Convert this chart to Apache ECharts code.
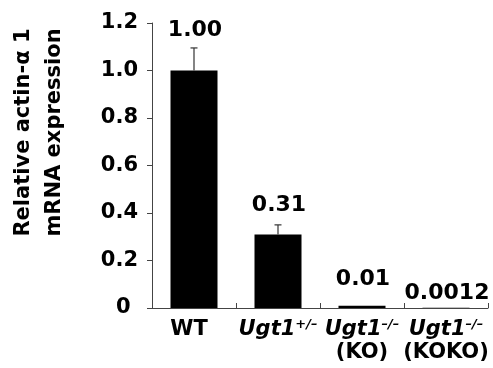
<!DOCTYPE html>
<html>
<head>
<meta charset="utf-8">
<script src="https://cdn.jsdelivr.net/npm/echarts@6/dist/echarts.min.js"></script>
<style>
  html, body { margin: 0; padding: 0; background: #fff; }
  #chart { width: 493px; height: 368px; }
</style>
</head>
<body>
<div id="chart"></div>
<script>
// groups and measured values
const categories = ['WT', 'Ugt1+/-', 'Ugt1-/- (KO)', 'Ugt1-/- (KOKO)']
const expression = [1.0, 0.31, 0.01, 0.0012]
const errors = [0.095, 0.04, 0, 0]
const valueLabels = ['1.00', '0.31', '0.01', '0.0012']
// gap (px) between the top of each mark and its value label
const labelGaps = [7, 9, 15, 3]

const FONT = 'DejaVu Sans'
const chart = echarts.init(document.getElementById('chart'))

function catLabel(name) {
  if (name === 'WT') return '{w|WT}'
  const parts = name.split(' ')
  const sup = parts[0].slice(4).replace(/-/g, '\u2013')
  let s = '{i|Ugt1}{s|' + sup + '}'
  if (parts[1]) s += '\n{n|' + parts[1] + '}'
  return s
}

const txt = { fontFamily: FONT, fontWeight: 'bold', color: '#000', lineHeight: 23 }

chart.setOption({
  animation: false,
  grid: { left: 149, right: 5, top: 23, bottom: 60 },
  xAxis: {
    type: 'category',
    data: categories,
    axisLine: { lineStyle: { color: '#444', width: 1 } },
    axisTick: { show: true, inside: true, length: 5, lineStyle: { color: '#444' } },
    axisLabel: {
      interval: 0,
      margin: 10,
      color: '#000',
      fontFamily: FONT,
      fontWeight: 'bold',
      fontSize: 21,
      lineHeight: 23,
      formatter: catLabel,
      rich: {
        w: Object.assign({ fontSize: 21, padding: [0, 10, 0, 0] }, txt),
        i: Object.assign({ fontSize: 21, fontStyle: 'italic' }, txt),
        s: Object.assign({ fontSize: 13, fontStyle: 'italic', verticalAlign: 'top' }, txt),
        n: Object.assign({ fontSize: 21 }, txt)
      }
    }
  },
  yAxis: {
    type: 'value',
    min: 0,
    max: 1.2,
    interval: 0.2,
    name: 'Relative actin-\u03b1 1\nmRNA expression',
    nameLocation: 'middle',
    nameRotate: 90,
    nameGap: 82,
    nameTextStyle: {
      color: '#000',
      fontFamily: FONT,
      fontWeight: 'bold',
      fontSize: 21,
      lineHeight: 31,
      padding: [0, 0, 0, 66]
    },
    splitLine: { show: false },
    axisLine: { show: true, lineStyle: { color: '#444', width: 1 } },
    axisTick: { show: true, length: 5, lineStyle: { color: '#444' } },
    axisLabel: {
      margin: 14,
      color: '#000',
      fontFamily: FONT,
      fontWeight: 'bold',
      fontSize: 21,
      formatter: function(v) {
        return v === 0 ? '0 ' : v.toFixed(1)
      }
    }
  },
  series: [
    {
      type: 'bar',
      data: expression,
      barWidth: 47,
      itemStyle: { color: '#000' }
    },
    {
      type: 'custom',
      data: expression.map(function(v, i) { return [i, v, errors[i]] }),
      z: 5,
      renderItem: function(params, api) {
        const i = api.value(0)
        const v = api.value(1)
        const e = api.value(2)
        const base = api.coord([i, v])
        const top = api.coord([i, v + e])
        const children = []
        if (e > 0) {
          children.push({
            type: 'line',
            shape: { x1: base[0], y1: base[1], x2: top[0], y2: top[1] },
            style: { stroke: '#333', lineWidth: 1.2 }
          })
          children.push({
            type: 'line',
            shape: { x1: top[0] - 3.5, y1: top[1], x2: top[0] + 3.5, y2: top[1] },
            style: { stroke: '#333', lineWidth: 1.2 }
          })
        }
        children.push({
          type: 'text',
          x: top[0] + 1,
          y: top[1] - labelGaps[params.dataIndex],
          style: {
            text: valueLabels[params.dataIndex],
            fill: '#000',
            font: 'bold 22px "' + FONT + '"',
            align: 'center',
            verticalAlign: 'bottom'
          }
        })
        return { type: 'group', children: children }
      }
    }
  ]
})
</script>
</body>
</html>
